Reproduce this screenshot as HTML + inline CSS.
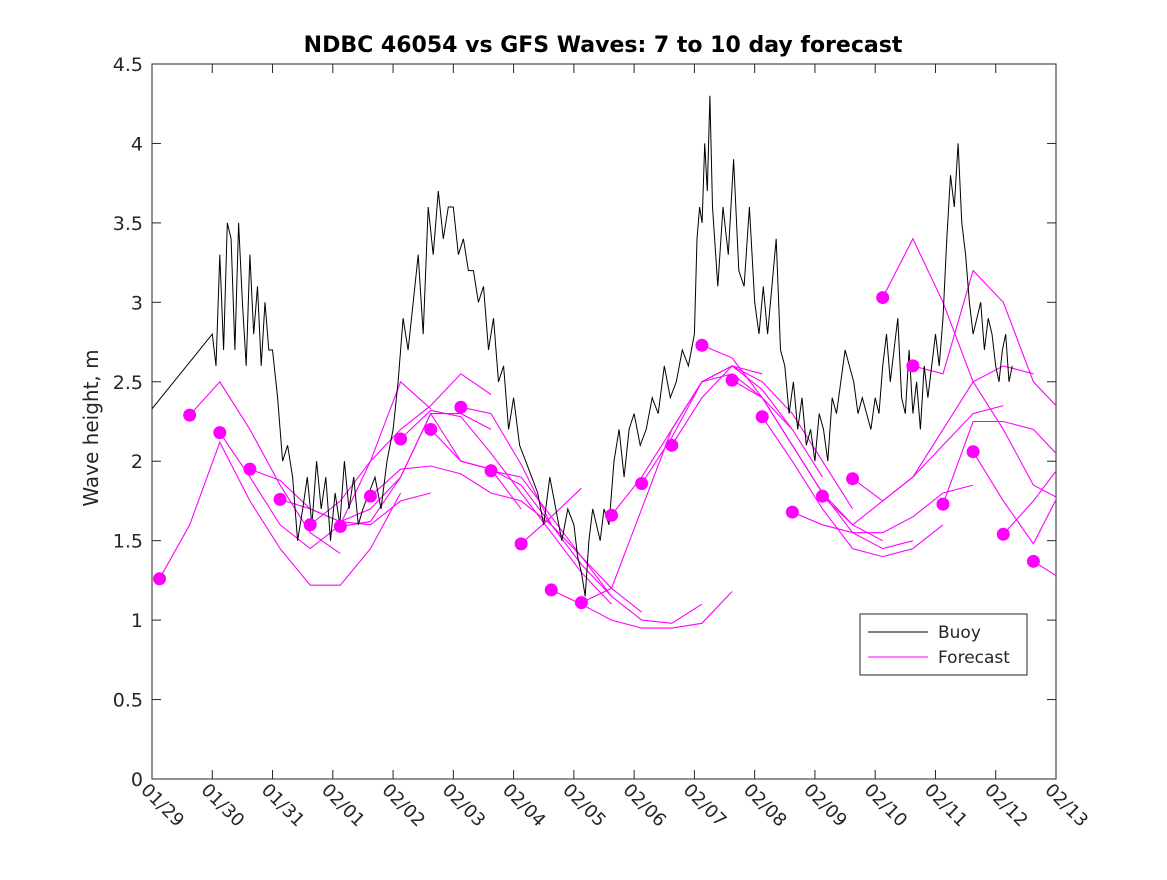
<!DOCTYPE html>
<html><head><meta charset="utf-8"><style>
body{margin:0;background:#fff;}
svg text{font-family:"DejaVu Sans","Liberation Sans",sans-serif;fill:#262626;}
</style></head><body>
<svg id="c" width="1167" height="875" viewBox="0 0 1167 875" xmlns="http://www.w3.org/2000/svg">
<rect width="1167" height="875" fill="#fff"/>
<text x="603" y="52" text-anchor="middle" font-size="22" font-weight="bold" style="fill:#000">NDBC 46054 vs GFS Waves: 7 to 10 day forecast</text>
<text transform="translate(98,428) rotate(-90)" text-anchor="middle" font-size="20">Wave height, m</text>
<g id="plot"></g>
</svg>
<script>
const yTicks=[0,0.5,1,1.5,2,2.5,3,3.5,4,4.5];
const xTickLabels=["01/29","01/30","01/31","02/01","02/02","02/03","02/04","02/05","02/06","02/07","02/08","02/09","02/10","02/11","02/12","02/13"];
const buoyChunks=[
[1.0,2.0,[2.8,2.6,3.3,2.7,3.5,3.4,2.7,3.5,3.0,2.6,3.3,2.8,3.1,2.6,3.0,2.7]],
[2.0,2.5,[2.7,2.4,2.0,2.1,1.9,1.5]],
[2.5,3.5,[1.7,1.9,1.6,2.0,1.7,1.9,1.5,1.8,1.6,2.0,1.7,1.9,1.6]],
[3.5,4.0,[1.7,1.8,1.9,1.7,2.0]],
[4.0,5.0,[2.2,2.5,2.9,2.7,3.0,3.3,2.8,3.6,3.3,3.7,3.4,3.6]],
[5.0,5.5,[3.6,3.3,3.4,3.2,3.2,3.0]],
[5.5,6.0,[3.1,2.7,2.9,2.5,2.6,2.2]],
[6.0,7.0,[2.4,2.1,2.0,1.9,1.8,1.6,1.9,1.7,1.5,1.7]],
[7.0,7.5,[1.6,1.4,1.3,1.15,1.5,1.7,1.6,1.5]],
[7.5,8.0,[1.7,1.6,2.0,2.2,1.9,2.2]],
[8.0,9.0,[2.3,2.1,2.2,2.4,2.3,2.6,2.4,2.5,2.7,2.6]],
[9.0,9.3,[2.8,3.4,3.6,3.5,4.0,3.7,4.3]],
[9.3,10.0,[3.6,3.1,3.6,3.3,3.9,3.2,3.1,3.6]],
[10.0,10.5,[3.0,2.8,3.1,2.8,3.1,3.4,2.7]],
[10.5,11.0,[2.6,2.3,2.5,2.2,2.4,2.1,2.2]],
[11.0,11.5,[2.0,2.3,2.2,2.0,2.4,2.3,2.5]],
[11.5,12.0,[2.7,2.6,2.5,2.3,2.4,2.3,2.2]],
[12.0,12.5,[2.4,2.3,2.6,2.8,2.5,2.7,2.9,2.4]],
[12.5,13.0,[2.3,2.7,2.3,2.5,2.2,2.6,2.4,2.6]],
[13.0,13.5,[2.8,2.6,2.9,3.4,3.8,3.6,4.0,3.5]],
[13.5,14.0,[3.3,3.0,2.8,2.9,3.0,2.7,2.9,2.8]],
[14.0,14.33,[2.6,2.5,2.7,2.8,2.5,2.6]]
];
const buoyFirst=[0,2.33];
const fcStarts=[0.125,0.625,1.125,1.625,2.125,2.625,3.125,3.625,4.125,4.625,5.125,5.625,6.125,6.625,7.125,7.625,8.125,8.625,9.125,9.625,10.125,10.625,11.125,11.625,12.125,12.625,13.125,13.625,14.125,14.625];
const fcDots=[1.26,2.29,2.18,1.95,1.76,1.60,1.59,1.78,2.14,2.20,2.34,1.94,1.48,1.19,1.11,1.66,1.86,2.10,2.73,2.51,2.28,1.68,1.78,1.89,3.03,2.60,1.73,2.06,1.54,1.37];
const fcLines=[
[1.26,1.6,2.12,1.75,1.45,1.22,1.22,1.45,1.8],
[2.29,2.5,2.2,1.85,1.55,1.42],
[2.18,1.9,1.6,1.45,1.6,2.0,2.5,2.33],
[1.95,1.88,1.7,1.62,1.6,1.75,1.8],
[1.76,1.7,1.62,1.7,1.9,2.3,2.3,2.2],
[1.60,1.75,2.0,2.2,2.35,2.55,2.42],
[1.59,1.62,1.9,2.3,2.0,1.95,1.7],
[1.78,1.95,1.97,1.92,1.8,1.75,1.6],
[2.14,2.32,2.28,2.05,1.8,1.55,1.3,1.1],
[2.20,2.0,1.95,1.85,1.6,1.35,1.15],
[2.34,2.3,1.98,1.6,1.4,1.2,1.05],
[1.94,1.9,1.65,1.4,1.15,1.0,0.98,1.1],
[1.48,1.65,1.83],
[1.19,1.1,1.0,0.95,0.95,0.98,1.18],
[1.11,1.2,1.7,2.2,2.5,2.6,2.55],
[1.66,1.9,2.2,2.5,2.55,2.4,2.2],
[1.86,2.15,2.5,2.6,2.45,2.2,1.9],
[2.10,2.4,2.6,2.5,2.3,2.0,1.7],
[2.73,2.65,2.4,2.1,1.8,1.6,1.5],
[2.51,2.4,2.1,1.8,1.55,1.45,1.5],
[2.28,2.0,1.7,1.45,1.4,1.45,1.6],
[1.68,1.6,1.55,1.55,1.65,1.8,1.85],
[1.78,1.6,1.75,1.9,2.1,2.3,2.35],
[1.89,1.75,1.9,2.2,2.5,2.6,2.55],
[3.03,3.4,3.0,2.5,2.2,1.85,1.75],
[2.60,2.55,3.2,3.0,2.5,2.3,1.75],
[1.73,2.25,2.25,2.2,2.0,1.7,1.5,2.9,2.2],
[2.06,1.75,1.48,1.85,2.1,2.0,1.95],
[1.54,1.75,2.0,2.15],
[1.37,1.25]
];
const fcStep=0.5;
const X0=152,X1=1056,Y0=779,Y1=64,XMAX=15,YMAX=4.5;
const xs=d=>X0+(X1-X0)*d/XMAX;
const ys=v=>Y0-(Y0-Y1)*v/YMAX;
const NS="http://www.w3.org/2000/svg";
const g=document.getElementById('plot');
function mk(t,a,p){const e=document.createElementNS(NS,t);for(const k in a)e.setAttribute(k,a[k]);(p||g).appendChild(e);return e;}
const clip=mk('clipPath',{id:'pc'});mk('rect',{x:X0,y:Y1,width:X1-X0,height:Y0-Y1},clip);
const frame=mk('rect',{x:X0,y:Y1,width:X1-X0,height:Y0-Y1,fill:'none',stroke:'#262626','stroke-width':1});


yTicks.forEach(v=>{
  const y=ys(v);
  mk('line',{x1:X0,x2:X0+9,y1:y,y2:y,stroke:'#262626'});
  mk('line',{x1:X1,x2:X1-9,y1:y,y2:y,stroke:'#262626'});
  const t=mk('text',{x:X0-9,y:y+7,'text-anchor':'end','font-size':19});t.textContent=String(v);
  
  
});
xTickLabels.forEach((lab,i)=>{
  const x=xs(i);
  mk('line',{x1:x,x2:x,y1:Y0,y2:Y0-9,stroke:'#262626'});
  mk('line',{x1:x,x2:x,y1:Y1,y2:Y1+9,stroke:'#262626'});
  const t=mk('text',{transform:`translate(${x-12},${Y0+12}) rotate(45)`,'font-size':18});t.textContent=lab;
  
  
});
const cg=mk('g',{'clip-path':'url(#pc)'});
fcLines.forEach((arr,i)=>{
  const pts=arr.map((v,j)=>xs(fcStarts[i]+j*fcStep).toFixed(1)+','+ys(v).toFixed(1)).join(' ');
  const p=mk('polyline',{points:pts,fill:'none',stroke:'#ff00ff','stroke-width':1.1},cg);
  
  
});
let bp=[[buoyFirst[0],buoyFirst[1]]];
buoyChunks.forEach(([a,b,vals])=>{const n=vals.length;vals.forEach((v,j)=>bp.push([a+(b-a)*j/n,v]));});
const bl=mk('polyline',{points:bp.map(p=>xs(p[0]).toFixed(1)+','+ys(p[1]).toFixed(1)).join(' '),fill:'none',stroke:'#000','stroke-width':1},cg);


fcDots.forEach((v,i)=>{
  const c=mk('circle',{cx:xs(fcStarts[i]),cy:ys(v),r:6.5,fill:'#ff00ff'},cg);
  
  
});
const lg=mk('g',{});


mk('rect',{x:860,y:614,width:167,height:61,fill:'#fff',stroke:'#262626'},lg);
mk('line',{x1:868,x2:928,y1:632,y2:632,stroke:'#000'},lg);
mk('line',{x1:868,x2:928,y1:657,y2:657,stroke:'#ff00ff'},lg);
const t1=mk('text',{x:938,y:638,'font-size':17},lg);t1.textContent='Buoy';


const t2=mk('text',{x:938,y:663,'font-size':17},lg);t2.textContent='Forecast';


</script>
</body></html>
